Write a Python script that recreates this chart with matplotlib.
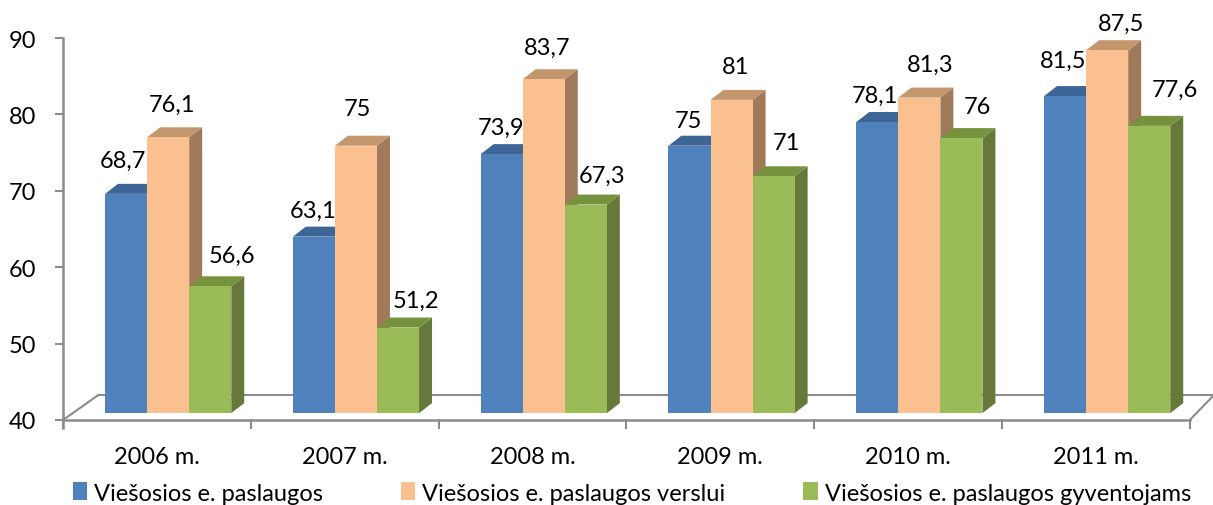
import matplotlib.pyplot as plt
from matplotlib.patches import Polygon, Patch

plt.rcParams['font.family'] = ['Lato', 'DejaVu Sans']

years = ['2006 m.', '2007 m.', '2008 m.', '2009 m.', '2010 m.', '2011 m.']
series_names = ['Viešosios e. paslaugos', 'Viešosios e. paslaugos verslui',
                'Viešosios e. paslaugos gyventojams']
vals_all = [68.7, 63.1, 73.9, 75, 78.1, 81.5]
vals_business = [76.1, 75, 83.7, 81, 81.3, 87.5]
vals_people = [56.6, 51.2, 67.3, 71, 76, 77.6]
labels_all = ['68,7', '63,1', '73,9', '75', '78,1', '81,5']
labels_business = ['76,1', '75', '83,7', '81', '81,3', '87,5']
labels_people = ['56,6', '51,2', '67,3', '71', '76', '77,6']

# label nudges in pixels (x shift, height above bar front top), as excel placed them
nudge_x = [[-3, -1, -1, -1, -2, -2],
           [4, 1, 3, 4, 11, 14],
           [22, 18, 16, 13, 16, 26]]
nudge_y = [[27, 20, 20, 19, 20, 29],
           [26, 31, 25, 27, 27, 20],
           [24, 21, 23, 27, 25, 30]]

# front, top, side colours
colors = [('#4F81BD', '#3D6596', '#385D8A'),
          ('#FAC090', '#C4966E', '#A07A5A'),
          ('#9BBB59', '#77923D', '#66793A')]

ymin, ymax = 40, 90
w = 0.224       # bar width
shift = 0.06    # perspective shift of the group
dx, dy = 0.069, 1.31   # bar depth
lift = 0.9      # bars sit a bit behind the front floor edge
fdx, fdy = 0.19, 3.3   # floor depth

fig = plt.figure(figsize=(12.13, 5.06), dpi=100)
ax = fig.add_axes([63 / 1213, 85 / 506, 1150 / 1213, 382 / 506])
xr = -0.5 + 1150 / 187.8
ax.set_xlim(-0.5, xr)
ax.set_ylim(ymin, ymax)

gray = '#8C8C8C'
# floor
ax.plot([-0.5, 5.5], [ymin, ymin], color=gray, lw=1.8, clip_on=False, zorder=1)
ax.plot([-0.5, -0.5 + fdx], [ymin, ymin + fdy], color=gray, lw=1.5, clip_on=False, zorder=1)
ax.plot([-0.5 + fdx, xr], [ymin + fdy, ymin + fdy], color=gray, lw=1.5, clip_on=False, zorder=1)
ax.plot([5.5, 5.5 + 0.13], [ymin, ymin + fdy], color=gray, lw=1.5, clip_on=False, zorder=1)

all_vals = [vals_all, vals_business, vals_people]
all_labels = [labels_all, labels_business, labels_people]
z = 2
for i in range(len(years)):
    for j in range(3):
        v = all_vals[j][i]
        fc, tc, sc = colors[j]
        x0 = i + (j - 1) * w + shift - w / 2
        x1 = x0 + w
        b = ymin + lift
        t = v + lift
        side = Polygon([(x1, b), (x1, t), (x1 + dx, t + dy), (x1 + dx, b + dy)],
                       closed=True, facecolor=sc, edgecolor='none', zorder=z)
        top = Polygon([(x0, t), (x1, t), (x1 + dx, t + dy), (x0 + dx, t + dy)],
                      closed=True, facecolor=tc, edgecolor='none', zorder=z)
        front = Polygon([(x0, b), (x1, b), (x1, t), (x0, t)],
                        closed=True, facecolor=fc, edgecolor='none', zorder=z + 0.5)
        for p in (side, top, front):
            p.set_clip_on(False)
            ax.add_patch(p)
        ax.annotate(all_labels[j][i], xy=((x0 + x1) / 2, t),
                    xytext=(nudge_x[j][i], nudge_y[j][i]), textcoords='offset pixels',
                    ha='center', va='baseline', fontsize=17, color='black',
                    zorder=100, annotation_clip=False)
        z += 1

# x ticks at category boundaries
for k in range(len(years) + 1):
    ax.plot([k - 0.5, k - 0.5], [ymin, ymin - 1.0], color=gray, lw=1.5, clip_on=False)
for i, name in enumerate(years):
    ax.text(i, ymin - 4.8, name, ha='center', va='center', fontsize=17)

for s in ['top', 'right', 'bottom']:
    ax.spines[s].set_visible(False)
ax.spines['left'].set_color(gray)
ax.spines['left'].set_linewidth(1.8)
ax.spines['left'].set_bounds(ymin - 1.0, ymax)
ax.set_xticks([])
ax.set_yticks(range(40, 91, 10))
ax.tick_params(axis='y', colors=gray, length=6, width=1.5, pad=13, labelsize=17, labelcolor='black')

handles = [Patch(facecolor=c[0], edgecolor='none') for c in colors]
fig.legend(handles, series_names, loc='center', bbox_to_anchor=(632 / 1213, 1 - 494 / 506),
           ncol=3, frameon=False, fontsize=17, handlelength=0.6, handleheight=0.8,
           handletextpad=0.3, columnspacing=3.3)

fig.savefig('out.png', dpi=100)
